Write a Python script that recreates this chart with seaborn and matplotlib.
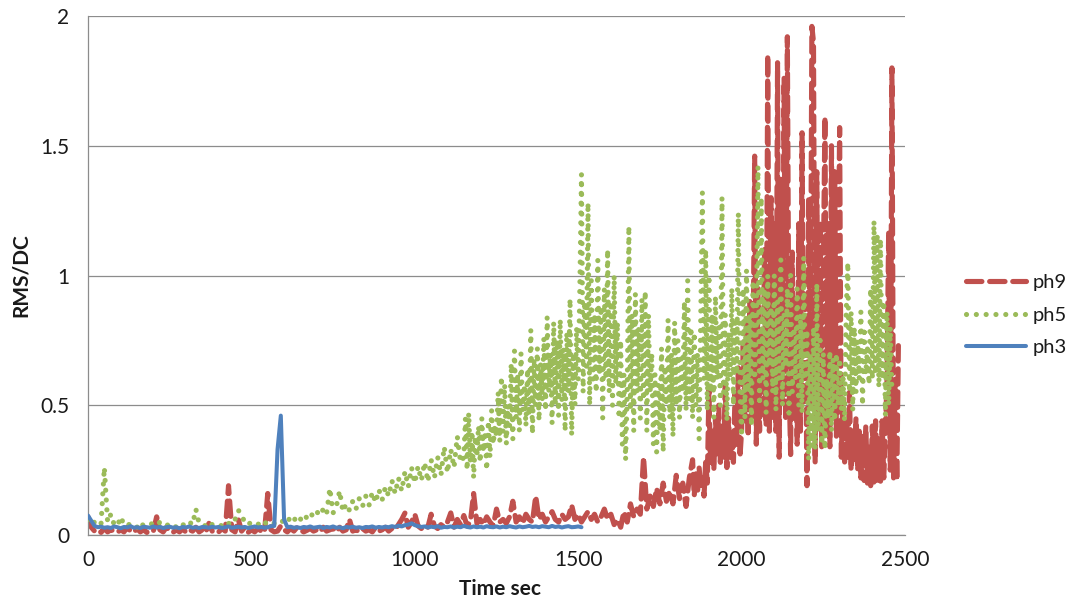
import numpy as np
import matplotlib
matplotlib.use("Agg")
import matplotlib.pyplot as plt
import seaborn as sns

# Recording is logged every 10 s, and every 5 s once the signal gets busy.
coarse_step = 10
fine_step = 5

# ph9: RMS/DC every 10 s from 0 s, then every 5 s from 1850 s
ph9_start_fine = 1850
ph9_coarse = [
    0.070, 0.030, 0.015, 0.020, 0.010, 0.025, 0.012, 0.020, 0.015, 0.010,
    0.020, 0.012, 0.030, 0.015, 0.010, 0.025, 0.012, 0.020, 0.010, 0.018,
    0.015, 0.070, 0.020, 0.012, 0.030, 0.015, 0.010, 0.020, 0.012, 0.025,
    0.010, 0.020, 0.015, 0.030, 0.012, 0.020, 0.010, 0.045, 0.015, 0.020,
    0.012, 0.025, 0.015, 0.190, 0.020, 0.012, 0.060, 0.015, 0.030, 0.010,
    0.020, 0.012, 0.025, 0.015, 0.010, 0.160, 0.020, 0.012, 0.015, 0.035,
    0.020, 0.012, 0.025, 0.015, 0.030, 0.020, 0.012, 0.018, 0.025, 0.015,
    0.020, 0.012, 0.030, 0.015, 0.020, 0.025, 0.012, 0.030, 0.015, 0.020,
    0.060, 0.015, 0.020, 0.012, 0.025, 0.015, 0.020, 0.012, 0.030, 0.015,
    0.020, 0.030, 0.015, 0.025, 0.020, 0.040, 0.060, 0.085, 0.030, 0.050,
    0.080, 0.035, 0.025, 0.040, 0.030, 0.080, 0.035, 0.025, 0.040, 0.030,
    0.050, 0.085, 0.030, 0.060, 0.040, 0.075, 0.035, 0.050, 0.160, 0.045,
    0.060, 0.040, 0.070, 0.050, 0.035, 0.100, 0.050, 0.060, 0.045, 0.070,
    0.130, 0.050, 0.070, 0.045, 0.080, 0.060, 0.050, 0.150, 0.060, 0.080,
    0.050, 0.070, 0.090, 0.060, 0.050, 0.080, 0.060, 0.070, 0.115, 0.060,
    0.080, 0.050, 0.070, 0.090, 0.060, 0.080, 0.050, 0.070, 0.100, 0.060,
    0.080, 0.040, 0.060, 0.030, 0.090, 0.050, 0.120, 0.070, 0.100, 0.080,
    0.300, 0.100, 0.150, 0.110, 0.180, 0.120, 0.200, 0.130, 0.170, 0.120,
    0.230, 0.140, 0.200, 0.110, 0.220,
]
ph9_fine = [
    0.29, 0.15, 0.24, 0.16, 0.26, 0.18, 0.22, 0.15, 0.28, 0.20,
    0.56, 0.27, 0.40, 0.25, 0.45, 0.30, 0.50, 0.28, 0.42, 0.30,
    0.59, 0.26, 0.45, 0.30, 0.38, 0.28, 0.55, 0.35, 0.65, 0.30,
    0.40, 0.75, 0.44, 0.83, 0.38, 0.90, 0.45, 0.70, 1.46, 0.35,
    0.95, 0.40, 0.80, 0.45, 1.10, 0.42, 1.85, 0.40, 1.30, 0.45,
    1.20, 0.40, 1.82, 0.30, 1.37, 0.50, 1.76, 0.44, 1.92, 0.60,
    0.31, 1.09, 0.45, 0.90, 0.35, 1.20, 0.40, 1.55, 0.50, 0.90,
    0.19, 1.30, 0.50, 1.96, 1.90, 0.28, 1.40, 0.40, 1.21, 0.34,
    1.00, 1.61, 0.40, 1.20, 0.34, 1.50, 0.45, 1.40, 0.38, 0.90,
    1.57, 0.30, 0.52, 0.27, 0.45, 0.30, 0.55, 0.25, 0.40, 0.28,
    0.45, 0.25, 0.40, 0.22, 0.38, 0.21, 0.42, 0.20, 0.35, 0.19,
    0.42, 0.20, 0.44, 0.21, 0.38, 0.20, 0.44, 0.22, 0.40, 0.60,
    1.17, 0.25, 1.80, 0.22, 0.60, 0.21, 0.75,
]

# ph5: RMS/DC every 10 s from 0 s, then every 5 s from 1150 s
ph5_start_fine = 1150
ph5_coarse = [
    0.060, 0.040, 0.050, 0.035, 0.045, 0.260, 0.050, 0.080, 0.040, 0.035,
    0.070, 0.040, 0.035, 0.045, 0.040, 0.030, 0.050, 0.035, 0.040, 0.045,
    0.040, 0.035, 0.050, 0.040, 0.035, 0.045, 0.040, 0.030, 0.045, 0.040,
    0.035, 0.050, 0.040, 0.100, 0.045, 0.040, 0.035, 0.050, 0.040, 0.045,
    0.040, 0.035, 0.050, 0.045, 0.040, 0.060, 0.095, 0.080, 0.045, 0.040,
    0.050, 0.045, 0.040, 0.055, 0.045, 0.050, 0.040, 0.045, 0.050, 0.045,
    0.060, 0.050, 0.070, 0.055, 0.075, 0.060, 0.080, 0.065, 0.085, 0.070,
    0.090, 0.075, 0.100, 0.080, 0.180, 0.085, 0.110, 0.170, 0.090, 0.120,
    0.095, 0.130, 0.100, 0.140, 0.110, 0.150, 0.115, 0.165, 0.125, 0.175,
    0.135, 0.185, 0.150, 0.210, 0.160, 0.220, 0.170, 0.245, 0.185, 0.260,
    0.200, 0.265, 0.210, 0.280, 0.205, 0.290, 0.220, 0.300, 0.230, 0.340,
    0.240, 0.330, 0.260, 0.380, 0.280,
]
ph5_fine = [
    0.30, 0.45, 0.25, 0.47, 0.28, 0.40, 0.22, 0.38, 0.30, 0.42,
    0.28, 0.45, 0.32, 0.40, 0.25, 0.44, 0.30, 0.48, 0.35, 0.42,
    0.38, 0.55, 0.36, 0.61, 0.40, 0.58, 0.35, 0.50, 0.42, 0.66,
    0.37, 0.71, 0.45, 0.62, 0.40, 0.70, 0.48, 0.58, 0.42, 0.64,
    0.46, 0.79, 0.39, 0.68, 0.50, 0.72, 0.44, 0.66, 0.52, 0.76,
    0.48, 0.84, 0.55, 0.70, 0.43, 0.82, 0.50, 0.75, 0.46, 0.83,
    0.52, 0.72, 0.40, 0.78, 0.55, 0.91, 0.385, 0.70, 0.50, 0.80,
    0.60, 0.95, 1.39, 0.55, 0.90, 0.65, 1.28, 0.50, 0.98, 0.60,
    0.85, 0.55, 1.06, 0.62, 0.88, 0.45, 0.95, 0.60, 1.10, 0.55,
    0.90, 0.50, 1.00, 0.58, 0.82, 0.45, 0.75, 0.35, 0.62, 0.29,
    0.55, 1.19, 0.48, 0.85, 0.40, 0.93, 0.55, 0.80, 0.45, 0.91,
    0.52, 0.94, 0.40, 0.85, 0.55, 0.70, 0.35, 0.62, 0.32, 0.58,
    0.40, 0.72, 0.32, 0.65, 0.50, 0.83, 0.45, 0.70, 0.38, 0.82,
    0.50, 0.75, 0.45, 0.68, 0.55, 0.90, 0.48, 0.98, 0.52, 0.80,
    0.45, 0.78, 0.50, 0.70, 0.37, 0.85, 1.32, 0.60, 1.10, 0.48,
    1.00, 0.55, 0.85, 0.45, 0.92, 0.60, 0.80, 0.50, 1.30, 0.55,
    0.85, 0.44, 0.78, 0.60, 0.95, 0.50, 0.82, 0.62, 1.24, 0.55,
    0.38, 0.95, 0.45, 1.02, 0.55, 0.85, 0.42, 0.98, 0.60, 0.80,
    1.42, 0.50, 1.30, 0.60, 0.95, 0.47, 1.00, 0.65, 0.88, 0.55,
    1.00, 0.48, 0.90, 0.60, 1.06, 0.50, 0.85, 0.65, 0.95, 0.47,
    1.00, 0.55, 0.80, 0.60, 0.95, 0.50, 0.85, 0.47, 1.07, 0.60,
    0.79, 0.29, 0.70, 0.34, 0.80, 0.33, 0.97, 0.40, 0.75, 0.35,
    0.70, 0.33, 0.60, 0.45, 0.71, 0.40, 0.68, 0.44, 0.70, 0.50,
    0.68, 0.48, 0.62, 0.44, 0.85, 1.05, 0.55, 0.86, 0.48, 0.80,
    0.55, 0.75, 0.60, 0.86, 0.50, 0.80, 0.62, 0.72, 0.58, 0.95,
    0.60, 1.21, 0.62, 1.16, 0.57, 1.14, 0.60, 0.90, 0.46, 0.86,
    0.50, 0.80, 0.55,
]

# ph3: RMS/DC every 10 s from 0 s to 1510 s
ph3 = [
    0.075, 0.055, 0.035, 0.030, 0.032, 0.028, 0.030, 0.027, 0.033, 0.030,
    0.026, 0.031, 0.029, 0.034, 0.028, 0.030, 0.027, 0.032, 0.030, 0.028,
    0.033, 0.029, 0.031, 0.027, 0.030, 0.032, 0.028, 0.030, 0.026, 0.031,
    0.029, 0.033, 0.028, 0.030, 0.027, 0.031, 0.030, 0.028, 0.032, 0.029,
    0.031, 0.027, 0.030, 0.033, 0.028, 0.030, 0.032, 0.029, 0.031, 0.027,
    0.030, 0.033, 0.029, 0.031, 0.028, 0.030, 0.034, 0.035, 0.330, 0.460,
    0.060, 0.030, 0.032, 0.028, 0.030, 0.027, 0.031, 0.029, 0.033, 0.028,
    0.030, 0.032, 0.027, 0.031, 0.029, 0.033, 0.028, 0.030, 0.026, 0.031,
    0.029, 0.032, 0.028, 0.030, 0.027, 0.031, 0.030, 0.033, 0.028, 0.031,
    0.029, 0.032, 0.030, 0.034, 0.031, 0.036, 0.033, 0.038, 0.040, 0.045,
    0.038, 0.034, 0.031, 0.033, 0.029, 0.032, 0.030, 0.034, 0.028, 0.031,
    0.030, 0.033, 0.029, 0.032, 0.030, 0.035, 0.031, 0.029, 0.033, 0.030,
    0.032, 0.029, 0.034, 0.031, 0.030, 0.033, 0.029, 0.032, 0.030, 0.034,
    0.031, 0.029, 0.033, 0.030, 0.032, 0.035, 0.031, 0.033, 0.030, 0.034,
    0.032, 0.030, 0.035, 0.031, 0.033, 0.029, 0.032, 0.034, 0.030, 0.031,
    0.033, 0.030,
]

x_ticks = [0, 500, 1000, 1500, 2000, 2500]
y_ticks = [0, 0.5, 1, 1.5, 2]
y_tick_labels = ["0", "0.5", "1", "1.5", "2"]


def time_axis(n_coarse, start_fine, n_fine):
    return np.concatenate([np.arange(n_coarse) * coarse_step,
                           start_fine + np.arange(n_fine) * fine_step])


t9 = time_axis(len(ph9_coarse), ph9_start_fine, len(ph9_fine))
y9 = np.array(ph9_coarse + ph9_fine)
t5 = time_axis(len(ph5_coarse), ph5_start_fine, len(ph5_fine))
y5 = np.array(ph5_coarse + ph5_fine)
t3 = np.arange(len(ph3)) * coarse_step

sns.set_theme(style="white")
plt.rcParams["font.family"] = ["Lato", "DejaVu Sans"]

W, H = 1075, 603
fig = plt.figure(figsize=(W / 100, H / 100), dpi=100)
ax = fig.add_axes([88 / W, 1 - 535 / H, (905 - 88) / W, (535 - 16) / H])

grey = "#8c8c8c"
ink = "#1a1a1a"

sns.lineplot(x=t9, y=y9, ax=ax, color="#C0504D", lw=3.7,
             linestyle=(0, (3, 1.5)), dash_capstyle="round",
             dash_joinstyle="round",
             estimator=None, sort=False, label="ph9", zorder=2)
sns.lineplot(x=t5, y=y5, ax=ax, color="#9BBB59", lw=3.7,
             linestyle=(0, (0.01, 1.9)), dash_capstyle="round",
             estimator=None, sort=False, label="ph5", zorder=3)
sns.lineplot(x=t3, y=ph3, ax=ax, color="#4F81BD", lw=2.9,
             solid_capstyle="round", solid_joinstyle="round",
             estimator=None, sort=False, label="ph3", zorder=4)

ax.set_xlim(0, 2500)
ax.set_ylim(0, 2)
ax.set_xticks(x_ticks)
ax.set_xticklabels([str(v) for v in x_ticks])
ax.set_yticks(y_ticks)
ax.set_yticklabels(y_tick_labels)

ax.yaxis.grid(True, color=grey, lw=0.9)
ax.xaxis.grid(False)
ax.set_axisbelow(True)
for side in ("top", "right"):
    ax.spines[side].set_visible(False)
for side in ("left", "bottom"):
    ax.spines[side].set_color(grey)
    ax.spines[side].set_linewidth(0.9)

ax.tick_params(axis="both", direction="out", length=4.5, width=0.9,
               color=grey, labelsize=15, labelcolor=ink)
ax.tick_params(axis="y", pad=9)
ax.tick_params(axis="x", pad=6)

ax.set_xlabel("Time sec", fontsize=15, fontweight="bold", color=ink)
ax.set_ylabel("RMS/DC", fontsize=15, fontweight="bold", color=ink)
ax.xaxis.set_label_coords((500 - 88) / 817, (535 - 579) / 519)
ax.yaxis.set_label_coords((31 - 88) / 817, 0.5)

leg = ax.legend(loc="center left", bbox_to_anchor=(966 / W, 1 - 315 / H),
                bbox_transform=fig.transFigure, frameon=False, fontsize=14.5,
                handlelength=3.0, labelspacing=0.75, borderpad=0,
                borderaxespad=0, handletextpad=0.3)
for text in leg.get_texts():
    text.set_color(ink)

fig.savefig("out.png", dpi=100)
